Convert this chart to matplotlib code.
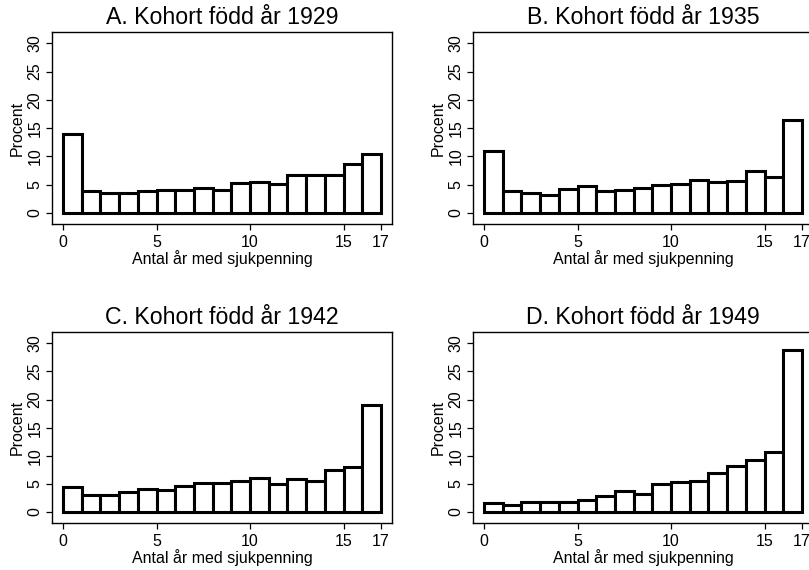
import numpy as np
import matplotlib
matplotlib.use("Agg")
import matplotlib.pyplot as plt

plt.rcParams['font.family'] = ['Liberation Sans', 'DejaVu Sans']

# antal år med sjukpenning (0..16, bar i covers [k, k+1])
years = list(range(17))

# procent per kohort
pct_1929 = [14.0, 3.8, 3.5, 3.5, 3.8, 4.1, 4.1, 4.5, 4.0, 5.3, 5.5, 5.2, 6.8, 6.7, 6.8, 8.6, 10.4]
pct_1935 = [11.0, 3.8, 3.6, 3.2, 4.2, 4.7, 3.8, 4.0, 4.4, 5.0, 5.2, 5.8, 5.5, 5.6, 7.5, 6.4, 16.4]
pct_1942 = [4.4, 3.1, 3.1, 3.5, 4.1, 4.0, 4.7, 5.1, 5.2, 5.5, 6.1, 5.0, 5.8, 5.6, 7.5, 8.0, 19.0]
pct_1949 = [1.6, 1.2, 1.7, 1.7, 1.8, 2.2, 2.8, 3.8, 3.2, 5.0, 5.4, 5.5, 7.0, 8.1, 9.2, 10.7, 28.8]

titles = ["A. Kohort född år 1929", "B. Kohort född år 1935",
          "C. Kohort född år 1942", "D. Kohort född år 1949"]
xticks = [0, 5, 10, 15, 17]
yticks = [0, 5, 10, 15, 20, 25, 30]

fig = plt.figure(figsize=(8.09, 5.70), dpi=100)

# axes boxes in figure fractions (right column runs past the edge like the original)
positions = [
    [0.0643, 0.607, 0.4202, 0.3368],
    [0.5847, 0.607, 0.4202, 0.3368],
    [0.0643, 0.0825, 0.4202, 0.335],
    [0.5847, 0.0825, 0.4202, 0.335],
]

for pos, title, vals in zip(positions, titles, [pct_1929, pct_1935, pct_1942, pct_1949]):
    ax = fig.add_axes(pos)
    ax.bar(years, vals, width=1.0, align='edge', facecolor='white',
           edgecolor='black', linewidth=2.2, zorder=3)
    ax.set_xlim(-0.59, 17.59)
    ax.set_ylim(-1.95, 32.0)
    ax.set_xticks(xticks)
    ax.set_yticks(yticks)
    ax.tick_params(axis='both', direction='out', length=4, width=0.9, labelsize=11.5)
    ax.tick_params(axis='x', pad=4)
    ax.tick_params(axis='y', pad=3)
    for lab in ax.get_yticklabels():
        lab.set_rotation(90)
        lab.set_va('center')
    for sp in ax.spines.values():
        sp.set_linewidth(1.0)
    ax.set_title(title, fontsize=16.7, pad=6)
    ax.set_xlabel("Antal år med sjukpenning", fontsize=11.5, labelpad=0)
    ax.set_ylabel("Procent", fontsize=11.5, labelpad=2)

fig.savefig("out.png", dpi=100)
